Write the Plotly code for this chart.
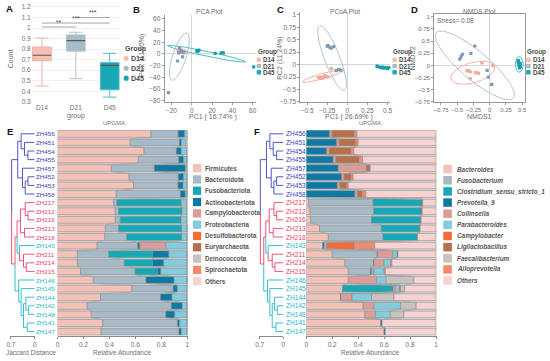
import numpy as np
import plotly.graph_objects as go

W, H = 550, 361
FONT = "Liberation Sans, Arial, Helvetica, sans-serif"
TXT = "#6e6e6e"
DARK = "#4a4a4a"

# ---------------- data ----------------
groups = ["D14", "D21", "D45"]
group_colors = ["#F4C0B5", "#A8BBC9", "#1AA7B5"]
group_edge = ["#F0B3A7", "#B3C5D2", "#4FBCC8"]
point_colors = ["#EFA899", "#7E9BB3", "#139FAF"]

# Panel A (box stats)
box_q1 = [0.690, 0.780, 0.415]
box_median = [0.742, 0.880, 0.645]
box_q3 = [0.820, 0.935, 0.672]
box_lower = [0.450, 0.520, 0.345]
box_upper = [0.905, 0.960, 0.760]
sig_left = [0, 0, 1]
sig_right = [1, 2, 2]
sig_height = [1.010, 1.047, 1.100]
sig_text = ["**", "***", "***"]

# Panel B (PCA)
pca_x = [[-13, -11, -10, -9, -8, -7, -10, -12],
         [-14, -9, -12, -23, -10, -8, -11, -13],
         [5, 6, 7, 23, 29, 31, 61, 6]]
pca_y = [[7, 5, 3, 4, 2, 5, 6, 4],
         [-12, -5, 10, -66, 4, 3, 6, 2],
         [5, 6, 6, 1, 2, 2, -22, 5]]
pca_ell = [(-9.5, 4.0, 6, 2, -10), (-12.2, -4.5, 41, 7, 80), (14.6, 0.4, 41, 4, -20)]

# Panel C (PCoA)
pcoa_x = [[-0.36, -0.32, -0.30, -0.26, -0.24, -0.20, -0.33, -0.28],
          [-0.25, -0.22, -0.20, -0.17, -0.14, -0.11, -0.08, -0.24],
          [0.37, 0.40, 0.42, 0.44, 0.45, 0.47, 0.50, 0.52]]
pcoa_y = [[-0.26, -0.25, -0.27, -0.24, -0.25, -0.08, -0.28, -0.22],
          [0.37, 0.35, 0.33, 0.36, -0.12, -0.10, -0.11, 0.38],
          [-0.03, -0.05, -0.06, -0.05, -0.07, -0.06, -0.08, -0.06]]
pcoa_ell = [(-0.30, -0.23, 0.29, 0.05, 25), (-0.19, 0.13, 0.67, 0.10, -77), (0.445, -0.055, 0.09, 0.015, -5)]

# Panel D (NMDS)
nmds_x = [[-0.35, -0.30, -0.22, -0.17, -0.30, -0.12, 0.05, -0.33],
          [-0.42, -0.46, -0.29, -0.23, -0.04, -0.02, 0.03, -0.44],
          [0.44, 0.45, 0.46, 0.47, 0.45, 0.44, 0.46, 0.47]]
nmds_y = [[-0.11, -0.13, -0.15, -0.16, -0.27, 0.05, 0.00, -0.10],
          [0.23, 0.13, 0.25, 0.40, -0.10, -0.24, -0.39, 0.18],
          [0.10, 0.05, 0.02, -0.02, 0.00, 0.07, -0.05, 0.04]]
nmds_ell = [(-0.26, -0.15, 0.36, 0.20, 25), (-0.23, 0.0, 0.90, 0.25, -50), (0.455, 0.02, 0.16, 0.06, 90)]
nmds_stress = 0.08

# Panels E/F: samples, clustering
samples = ["ZH456", "ZH451", "ZH454", "ZH455", "ZH457", "ZH452", "ZH453", "ZH458",
           "ZH217", "ZH212", "ZH216", "ZH213", "ZH218", "ZH143", "ZH211", "ZH214",
           "ZH215", "ZH146", "ZH145", "ZH144", "ZH142", "ZH148", "ZH141", "ZH147"]
leaf_cluster = [0] * 8 + [1] * 5 + [2] + [1] * 3 + [2] * 7
cluster_colors = ["#3A44C0", "#EF3E66", "#22B6CC"]
# UPGMA merges: (child a, child b, height); nodes numbered from 24
merges = [(2, 3, 0.20), (1, 24, 0.30), (0, 25, 0.40), (5, 6, 0.20), (27, 7, 0.28),
          (4, 28, 0.36), (26, 29, 0.50), (9, 10, 0.20), (8, 31, 0.28), (11, 12, 0.30),
          (32, 33, 0.42), (15, 16, 0.25), (14, 35, 0.33), (13, 36, 0.45), (34, 37, 0.52),
          (20, 21, 0.18), (19, 39, 0.26), (22, 23, 0.22), (40, 41, 0.33), (18, 42, 0.40),
          (17, 43, 0.47), (38, 44, 0.58), (30, 45, 0.68)]

taxa_colors = ["#F3C1B7", "#A7BAC7", "#17A8B5", "#0F78A3", "#DD9C97", "#82CCDD",
               "#F26C36", "#B7714A", "#C8C3C1", "#F5896B", "#F7D2D2"]

phyla = ["Firmicutes", "Bacteroidota", "Fusobacteriota", "Actinobacteriota",
         "Campylobacterota", "Proteobacteria", "Desulfobacterota", "Euryarchaeota",
         "Deinococcota", "Spirochaetota", "Others"]
# rows: one list per sample, values in phyla order
phylum_rows = [
    [0.720, 0.210, 0, 0.050, 0, 0.020, 0, 0, 0, 0, 0],
    [0.560, 0.380, 0, 0.015, 0, 0.035, 0, 0, 0, 0, 0.010],
    [0.667, 0.249, 0, 0.038, 0, 0.040, 0, 0, 0, 0, 0.006],
    [0.623, 0.311, 0, 0.038, 0, 0.025, 0, 0, 0, 0, 0.003],
    [0.415, 0.331, 0, 0.239, 0, 0.010, 0, 0, 0, 0, 0.005],
    [0.552, 0.379, 0, 0.041, 0, 0.025, 0, 0, 0, 0, 0.003],
    [0.585, 0.344, 0, 0.038, 0, 0.030, 0, 0, 0, 0, 0.003],
    [0.453, 0.494, 0, 0.038, 0, 0.012, 0, 0, 0, 0, 0.003],
    [0.433, 0.025, 0.491, 0.005, 0, 0.040, 0, 0, 0, 0, 0.006],
    [0.445, 0.026, 0.483, 0.005, 0, 0.035, 0, 0, 0, 0, 0.006],
    [0.445, 0.038, 0.464, 0.005, 0, 0.042, 0, 0, 0, 0, 0.006],
    [0.369, 0.102, 0.483, 0.003, 0, 0.040, 0, 0, 0, 0, 0.003],
    [0.364, 0.170, 0.420, 0.003, 0, 0.040, 0, 0, 0, 0, 0.003],
    [0.305, 0.313, 0, 0.016, 0.201, 0.160, 0, 0, 0, 0, 0.005],
    [0.153, 0.241, 0.339, 0.125, 0, 0.140, 0, 0, 0, 0, 0.002],
    [0.153, 0.361, 0.219, 0.086, 0, 0.178, 0, 0, 0, 0, 0.003],
    [0.178, 0.420, 0.173, 0.025, 0, 0.200, 0, 0, 0, 0, 0.004],
    [0.275, 0.407, 0, 0.216, 0, 0.100, 0, 0, 0, 0, 0.002],
    [0.573, 0.318, 0, 0.033, 0, 0.072, 0, 0, 0, 0, 0.004],
    [0.331, 0.463, 0, 0.089, 0, 0.113, 0, 0, 0, 0, 0.004],
    [0.229, 0.649, 0, 0.084, 0, 0.035, 0, 0, 0, 0, 0.003],
    [0.260, 0.575, 0, 0.068, 0, 0.094, 0, 0, 0, 0, 0.003],
    [0.349, 0.575, 0, 0.017, 0, 0.056, 0, 0, 0, 0, 0.003],
    [0.336, 0.600, 0, 0.018, 0, 0.043, 0, 0, 0, 0, 0.003],
]

genera = ["Bacteroides", "Fusobacterium", "Clostridium_sensu_stricto_1", "Prevotella_9",
          "Collinsella", "Parabacteroides", "Campylobacter", "Ligilactobacillus",
          "Faecalibacterium", "Alloprevotella", "Others"]
genus_rows = [
    [0, 0, 0, 0.180, 0.020, 0, 0, 0.170, 0, 0.020, 0.610],
    [0, 0, 0, 0.235, 0.020, 0, 0, 0.125, 0, 0.020, 0.600],
    [0, 0, 0, 0.158, 0.020, 0, 0, 0.166, 0, 0.023, 0.633],
    [0, 0, 0, 0.209, 0.021, 0, 0, 0.176, 0, 0.028, 0.566],
    [0, 0, 0, 0.247, 0.216, 0, 0, 0.026, 0, 0.005, 0.506],
    [0, 0, 0, 0.273, 0.020, 0, 0, 0.051, 0, 0.018, 0.638],
    [0, 0, 0, 0.240, 0.020, 0, 0, 0.051, 0, 0.013, 0.676],
    [0, 0, 0, 0.375, 0.020, 0, 0, 0.036, 0, 0.028, 0.541],
    [0.020, 0.495, 0.370, 0.008, 0, 0, 0, 0, 0, 0.005, 0.102],
    [0.030, 0.490, 0.365, 0.005, 0, 0, 0, 0, 0, 0.004, 0.106],
    [0.035, 0.468, 0.375, 0.004, 0, 0, 0, 0, 0, 0.004, 0.114],
    [0.102, 0.477, 0.293, 0.003, 0, 0, 0, 0, 0, 0.003, 0.122],
    [0.171, 0.421, 0.263, 0.003, 0, 0, 0, 0, 0, 0, 0.142],
    [0.127, 0, 0, 0.013, 0, 0.018, 0.210, 0, 0, 0.160, 0.472],
    [0.200, 0.346, 0, 0.003, 0.117, 0.036, 0, 0.005, 0, 0, 0.293],
    [0.298, 0.220, 0, 0.004, 0.078, 0.050, 0, 0, 0, 0.010, 0.340],
    [0.324, 0.170, 0, 0.010, 0.016, 0.080, 0, 0, 0, 0.010, 0.390],
    [0.324, 0, 0, 0, 0.217, 0.076, 0, 0, 0.212, 0, 0.171],
    [0.280, 0, 0.384, 0.005, 0.020, 0.030, 0, 0.008, 0.030, 0, 0.243],
    [0.265, 0, 0, 0.003, 0.085, 0.150, 0, 0, 0.173, 0, 0.324],
    [0.439, 0, 0, 0, 0.084, 0.204, 0, 0, 0.120, 0, 0.153],
    [0.452, 0, 0, 0, 0.081, 0.115, 0, 0, 0.105, 0, 0.247],
    [0.574, 0, 0, 0.010, 0, 0, 0, 0, 0, 0, 0.416],
    [0.600, 0, 0, 0.010, 0, 0, 0, 0, 0, 0, 0.390],
]

# ---------------- helpers ----------------
fig = go.Figure()


def dx(p0, p1):
    return [p0 / W, p1 / W]


def dy(top, bottom):
    return [1 - bottom / H, 1 - top / H]


def note(x, y, s, size=6.5, color=TXT, xa="center", ya="middle", angle=0, bold=False, italic=False):
    if bold:
        s = "<b>" + s + "</b>"
    if italic:
        s = "<i>" + s + "</i>"
    fig.add_annotation(x=x / W, y=1 - y / H, xref="paper", yref="paper", text=s,
                       showarrow=False, xanchor=xa, yanchor=ya, textangle=angle,
                       font=dict(family=FONT, size=size, color=color), borderpad=0)


def rect(x0, y0, x1, y1, color, kind="rect"):
    fig.add_shape(type=kind, xref="paper", yref="paper", x0=x0 / W, x1=x1 / W,
                  y0=1 - y1 / H, y1=1 - y0 / H, fillcolor=color, line=dict(width=0))


def rgba(hexc, a):
    h = hexc.lstrip("#")
    return "rgba(%d,%d,%d,%.2f)" % (int(h[0:2], 16), int(h[2:4], 16), int(h[4:6], 16), a)


def ellipse(cx, cy, a, b, ang):
    t = np.linspace(0, 2 * np.pi, 120)
    th = np.radians(ang)
    x = cx + a * np.cos(t) * np.cos(th) - b * np.sin(t) * np.sin(th)
    y = cy + a * np.cos(t) * np.sin(th) + b * np.sin(t) * np.cos(th)
    return x, y


tickfont = dict(family=FONT, size=6.5, color=TXT)
tickfont_s = dict(family=FONT, size=6.0, color=TXT)

# ---------------- Panel A ----------------
for i, g in enumerate(groups):
    fig.add_trace(go.Box(x=[i], q1=[box_q1[i]], median=[box_median[i]], q3=[box_q3[i]],
                         lowerfence=[box_lower[i]], upperfence=[box_upper[i]],
                         width=0.55, whiskerwidth=0.72, fillcolor=group_colors[i],
                         line=dict(color=group_edge[i], width=1), boxpoints=False,
                         xaxis="x", yaxis="y", hoverinfo="skip"))
    fig.add_trace(go.Scatter(x=[i - 0.275, i + 0.275], y=[box_median[i]] * 2, mode="lines",
                             line=dict(color="#5a5a5a", width=1.2), xaxis="x", yaxis="y",
                             hoverinfo="skip"))
for l, r, hgt, s in zip(sig_left, sig_right, sig_height, sig_text):
    fig.add_trace(go.Scatter(x=[l, r], y=[hgt, hgt], mode="lines",
                             line=dict(color="#a5a5a5", width=1), xaxis="x", yaxis="y"))
    fig.add_annotation(x=(l + r) / 2, y=hgt, xref="x", yref="y", text=s, showarrow=False,
                       yanchor="bottom", yshift=-1, font=dict(family=FONT, size=6.5, color=DARK))

# ---------------- Panels B, C, D ----------------
scatter_sets = [(pca_x, pca_y, pca_ell, "x2", "y2"),
                (pcoa_x, pcoa_y, pcoa_ell, "x3", "y3"),
                (nmds_x, nmds_y, nmds_ell, "x4", "y4")]
for xs, ys, ells, xa, ya in scatter_sets:
    for gi in range(3):
        ex, ey = ellipse(*ells[gi])
        fig.add_trace(go.Scatter(x=ex, y=ey, mode="lines", line=dict(color=group_edge[gi], width=1),
                                 xaxis=xa, yaxis=ya, hoverinfo="skip"))
    for gi in range(3):
        fig.add_trace(go.Scatter(x=xs[gi], y=ys[gi], mode="markers",
                                 marker=dict(color=point_colors[gi], size=3.2, symbol="square"),
                                 xaxis=xa, yaxis=ya, hoverinfo="skip"))

# ---------------- Panels E, F ----------------
nrows = len(samples)
row_y = [nrows - 1 - i for i in range(nrows)]
BAR_W = 0.82


def draw_dendro(xa, ya):
    n = nrows
    px = {i: 0.0 for i in range(n)}
    py = {i: float(row_y[i]) for i in range(n)}
    col = {i: leaf_cluster[i] for i in range(n)}
    segs = {c: ([], []) for c in range(3)}
    for j, (a, b, h) in enumerate(merges):
        node = n + j
        ym = (py[a] + py[b]) / 2
        for c in (a, b):
            sx, sy = segs[col[c]]
            sx += [px[c], h, h, None]
            sy += [py[c], py[c], ym, None]
        px[node] = h
        py[node] = ym
        top = a if py[a] > py[b] else b
        col[node] = col[top]
    for c in range(3):
        sx, sy = segs[c]
        fig.add_trace(go.Scatter(x=sx, y=sy, mode="lines", line=dict(color=cluster_colors[c], width=0.9),
                                 xaxis=xa, yaxis=ya, hoverinfo="skip"))


def draw_stack(rows, xa, ya):
    vals = np.array(rows, dtype=float).T  # taxa x rows
    cum = np.cumsum(vals, axis=0)
    lo = cum - vals
    yy = np.array(row_y, dtype=float)
    hw = BAR_W / 2
    ntax = vals.shape[0]
    for k in range(ntax):
        fx, fy = [], []
        for i in range(nrows - 1):
            if vals[k, i] <= 0 and vals[k, i + 1] <= 0:
                continue
            fx += [lo[k, i], cum[k, i], cum[k, i + 1], lo[k, i + 1], lo[k, i], None]
            fy += [yy[i] - hw, yy[i] - hw, yy[i + 1] + hw, yy[i + 1] + hw, yy[i] - hw, None]
        fig.add_trace(go.Scatter(x=fx, y=fy, mode="lines", fill="toself",
                                 fillcolor=rgba(taxa_colors[k], 0.22),
                                 line=dict(color="#a3a3a3", width=0.5),
                                 xaxis=xa, yaxis=ya, hoverinfo="skip"))
    for k in range(ntax):
        xv = [v if v > 0 else None for v in vals[k]]
        fig.add_trace(go.Bar(y=row_y, x=xv, base=lo[k], orientation="h", width=BAR_W,
                             marker=dict(color=taxa_colors[k], line=dict(color="#808080", width=0.5)),
                             xaxis=xa, yaxis=ya, hoverinfo="skip"))


draw_dendro("x5", "y5")
draw_stack(phylum_rows, "x6", "y6")
draw_dendro("x7", "y7")
draw_stack(genus_rows, "x8", "y8")

# leaf labels
for i, s in enumerate(samples):
    c = cluster_colors[leaf_cluster[i]]
    fig.add_annotation(x=32.5 / W, y=row_y[i], xref="paper", yref="y5", text=s, showarrow=False,
                       xanchor="left", font=dict(family=FONT, size=6.2, color=c), borderpad=0)
    fig.add_annotation(x=285 / W, y=row_y[i], xref="paper", yref="y7", text=s, showarrow=False,
                       xanchor="left", font=dict(family=FONT, size=6.6, color=c), borderpad=0)

# ---------------- axes ----------------
ERow_top = 134.3 - 8.696 / 2
ERow_bot = 334.3 + 8.696 / 2

lay = dict(
    width=W, height=H, margin=dict(l=0, r=0, t=0, b=0), autosize=False,
    paper_bgcolor="white", plot_bgcolor="white", showlegend=False, barmode="overlay",
    font=dict(family=FONT, color=TXT),
    xaxis=dict(domain=dx(29, 118), range=[-0.3, 2.3], tickvals=[0, 1, 2], ticktext=groups,
               showgrid=False, zeroline=False, showline=False, ticks="", tickfont=tickfont,
               tickangle=0, anchor="y"),
    yaxis=dict(domain=dy(3, 103), range=[0.2906, 1.228], tick0=0.3, dtick=0.1,
               showgrid=True, gridcolor="#f0f0f0", zeroline=False, showline=False, ticks="",
               tickfont=tickfont, anchor="x"),
)

common_sc = dict(showgrid=False, zeroline=True, zerolinecolor="#d6d6d6", zerolinewidth=0.8,
                 showline=True, linecolor="#9a9a9a", linewidth=0.8, ticks="outside", ticklen=2,
                 tickcolor="#9a9a9a", tickangle=0)

lay["xaxis2"] = dict(domain=dx(163, 255), range=[-26.83, 62.93], tickvals=[-20, 0, 20, 40, 60],
                     ticktext=["\u221220", "0", "20", "40", "60"], anchor="y2", tickfont=tickfont, **common_sc)
lay["yaxis2"] = dict(domain=dy(14, 102.5), range=[-82.5, 66.75], tickvals=list(range(-80, 61, 20)),
                     ticktext=["\u221280", "\u221260", "\u221240", "\u221220", "0", "20", "40", "60"],
                     anchor="x2", tickfont=tickfont, **common_sc)
lay["xaxis3"] = dict(domain=dx(300, 391), range=[-0.586, 0.537], tickvals=[-0.5, -0.25, 0, 0.25, 0.5],
                     ticktext=["\u22120.5", "\u22120.25", "0", "0.25", "0.5"], anchor="y3",
                     tickfont=tickfont, **common_sc)
lay["yaxis3"] = dict(domain=dy(11, 102.5), range=[-0.76, 1.06],
                     tickvals=[-0.75, -0.5, -0.25, 0, 0.25, 0.5, 0.75, 1],
                     ticktext=["\u22120.75", "\u22120.5", "\u22120.25", "0", "0.25", "0.5", "0.75", "1"],
                     anchor="x3", tickfont=tickfont, **common_sc)
lay["xaxis4"] = dict(domain=dx(435, 527), range=[-0.857, 0.546],
                     tickvals=[-0.75, -0.5, -0.25, 0, 0.25, 0.5],
                     ticktext=["\u22120.75", "\u22120.5", "\u22120.25", "0", "0.25", "0.5"],
                     anchor="y4", mirror=True, tickfont=tickfont_s, **common_sc)
lay["yaxis4"] = dict(domain=dy(13, 102.5), range=[-0.76, 1.061],
                     tickvals=[-0.75, -0.5, -0.25, 0, 0.25, 0.5, 0.75, 1],
                     ticktext=["\u22120.75", "\u22120.5", "\u22120.25", "0", "0.25", "0.5", "0.75", "1"],
                     anchor="x4", mirror=True, tickfont=tickfont_s, **common_sc)

hidden_y = dict(domain=dy(ERow_top, ERow_bot), range=[-0.5, nrows - 0.5], visible=False)
dendro_x = dict(range=[0.73, 0], tickvals=[0.7, 0], ticktext=["0.7", "0"], showgrid=False,
                zeroline=False, showline=True, linecolor="#8a8a8a", linewidth=0.8, ticks="outside",
                ticklen=2, tickcolor="#8a8a8a", tickfont=tickfont, tickangle=0)
bar_x = dict(range=[0, 1.0076], tickvals=[0, 0.2, 0.4, 0.6, 0.8, 1],
             ticktext=["0", "0.2", "0.4", "0.6", "0.8", "1"], showgrid=False, zeroline=False,
             showline=True, linecolor="#8a8a8a", linewidth=0.8, ticks="outside", ticklen=2,
             tickcolor="#8a8a8a", tickfont=tickfont, tickangle=0)
lay["xaxis5"] = dict(domain=dx(7, 32), anchor="y5", **dendro_x)
lay["yaxis5"] = dict(anchor="x5", **hidden_y)
lay["xaxis6"] = dict(domain=dx(55, 187), anchor="y6", **bar_x)
lay["yaxis6"] = dict(anchor="x6", **hidden_y)
lay["xaxis7"] = dict(domain=dx(258, 283), anchor="y7", **dendro_x)
lay["yaxis7"] = dict(anchor="x7", **hidden_y)
lay["xaxis8"] = dict(domain=dx(306, 438), anchor="y8", **bar_x)
lay["yaxis8"] = dict(anchor="x8", **hidden_y)
fig.update_layout(**lay)

# ---------------- text & legends ----------------
for letter, x, y in [("A", 7, 8), ("B", 135, 9), ("C", 280, 9), ("D", 415, 9), ("E", 7, 132), ("F", 256, 132)]:
    note(x, y, letter, size=9.5, color="#111111", bold=True)

note(208, 11, "PCA Plot", size=6.6)
note(345, 11, "PCoA Plot", size=6.6)
note(481, 11, "NMDS Plot", size=6.6)
note(112, 123.5, "UPGMA", size=6)
note(370, 123.5, "UPGMA", size=6)

note(74, 116, "group", size=7)
note(7, 58, "Count", size=7, angle=-90)
note(212, 117, "PC1 ( 16.74% )", size=7)
note(141, 55, "PC2 (11.05%)", size=7, angle=-90)
note(349, 117, "PC1 ( 26.69% )", size=7)
note(280, 58, "PC2 (11.24%)", size=7, angle=-90)
note(481, 117, "NMDS1", size=7)
note(413, 58, "NMDS2", size=7, angle=-90)
note(437, 20, "Stress= %.2f" % nmds_stress, size=6.5, color="#666666", xa="left")

note(28, 355, "Jaccard Distance", size=6.5)
note(120, 355, "Relative Abundance", size=6.5)
note(370, 355, "Relative Abundance", size=6.5)

# Group legends
note(122, 49, "Group", size=7, color=DARK, xa="left", bold=True)
for gi, g in enumerate(groups):
    yc = 58 + 10 * gi
    rect(121.7, yc - 2.6, 126.9, yc + 2.6, group_colors[gi], kind="circle")
    note(128.5, yc, g, size=7, color=DARK, xa="left", bold=True)

for lx in [256, 393, 528]:
    note(lx, 52, "Group", size=6.3, color=DARK, xa="left", bold=True)
    for gi, g in enumerate(groups):
        yc = 59.5 + 6.3 * gi
        rect(lx, yc - 2.2, lx + 4.4, yc + 2.2, group_colors[gi])
        note(lx + 5.5, yc, g, size=6.3, color=DARK, xa="left", bold=True)

# taxa legends
for k, name in enumerate(phyla):
    yc = 169 + 11.43 * k
    rect(191.7, yc - 4.2, 200, yc + 4.2, taxa_colors[k])
    note(202.7, yc, name, size=6.3, color="#555555", xa="left", bold=True)
for k, name in enumerate(genera):
    yc = 170 + 11.27 * k
    rect(444.3, yc - 4.3, 453, yc + 4.3, taxa_colors[k])
    note(456.7, yc, name, size=6.4, color="#555555", xa="left", bold=True, italic=True)

fig.write_html("out.html", config={"displayModeBar": False},
               post_script="document.body.style.margin='0px';document.body.style.padding='0px';")
